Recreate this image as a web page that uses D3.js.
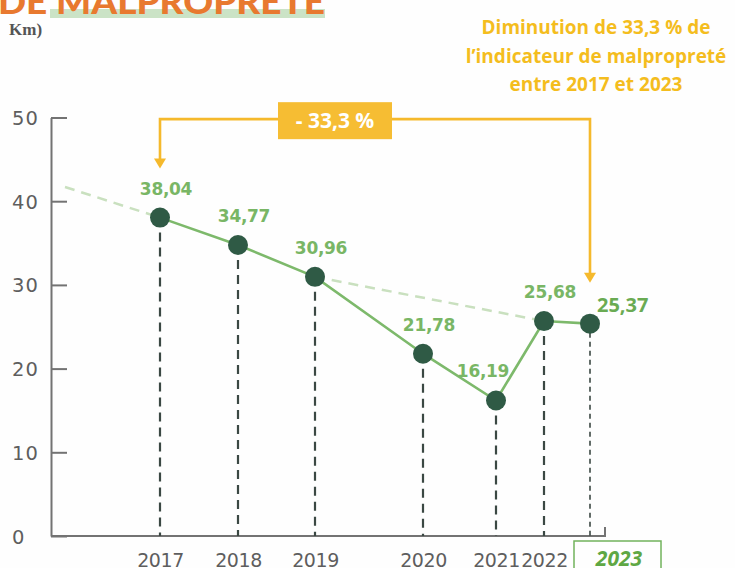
<!DOCTYPE html>
<html>
<head>
<meta charset="utf-8">
<script src="https://cdn.jsdelivr.net/npm/d3@7"></script>
<style>
  html, body { margin: 0; padding: 0; background: #fefefe; }
  svg { display: block; }
</style>
</head>
<body>
<div id="chart"></div>
<script>
// values
const years = ["2017", "2018", "2019", "2020", "2021", "2022", "2023"];
const values = [38.04, 34.77, 30.96, 21.78, 16.19, 25.68, 25.37];
const yTicks = [0, 10, 20, 30, 40, 50];
// dashed trend: backward extension before 2017, then 2019 -> 2022
const trendLead = [["start", 41.7], ["2017", 38.04]];
const trendTail = [["2019", 30.96], ["2022", 25.68]];
const changeLabel = "- 33,3 %";
const noteLines = ["Diminution de 33,3 % de", "l\u2019indicateur de malpropreté", "entre 2017 et 2023"];

const W = 735, H = 568;
const GOLD = "#f5b92c", LINE = "#7db96b", DOT = "#2f5a45", LBL = "#79b665", AX = "#737373";

const svg = d3.select("#chart").append("svg").attr("width", W).attr("height", H);

// years are not evenly spaced in the original
const x = d3.scaleOrdinal().domain(["start", ...years]).range([65, 160, 238, 315, 423, 496, 544, 590]);
const y = d3.scaleLinear().domain([0, 50]).range([536, 117.5]);

const fr = d3.formatLocale({decimal: ",", thousands: " ", grouping: [3], currency: ["", "€"]}).format(".2f");

// title fragment (cut at the top of the picture)
svg.append("rect").attr("x", 50).attr("y", 9).attr("width", 275).attr("height", 9).attr("fill", "#cbe3c6");
svg.append("text").attr("x", -2).attr("y", 14).text("DE MALPROPRETE")
    .attr("textLength", 327).attr("lengthAdjust", "spacingAndGlyphs")
    .style("font-family", "Lato").style("font-weight", 900).style("font-size", "34px").attr("fill", "#e8792f");
svg.append("text").attr("x", 9).attr("y", 35).text("Km)")
    .style("font-family", "Liberation Serif").style("font-weight", 700).style("font-size", "17px").attr("fill", "#555");

// y axis
const yAxis = svg.append("g").attr("transform", "translate(51,0)")
    .call(d3.axisLeft(y).tickValues(yTicks).tickSize(-16).tickSizeOuter(0));
yAxis.select(".domain").attr("stroke", AX).attr("stroke-width", 2);
yAxis.selectAll(".tick line").attr("stroke", AX).attr("stroke-width", 2);
yAxis.selectAll(".tick text").attr("x", -39).attr("text-anchor", "start").attr("dy", "0.36em")
    .style("font-family", "DejaVu Sans").style("font-size", "19.5px").style("letter-spacing", "1px").attr("fill", "#5e5e5e");

// x axis baseline with its end tick
svg.append("path").attr("d", `M51,${y(0)}H605V${y(0) - 9}`)
    .attr("fill", "none").attr("stroke", AX).attr("stroke-width", 2);

const xLab = svg.append("g").attr("transform", `translate(0,${y(0)})`)
    .call(d3.axisBottom(x).tickValues(years.slice(0, 6)).tickSize(0).tickPadding(0));
xLab.select(".domain").remove();
xLab.selectAll(".tick text").attr("dy", null).attr("y", 31)
    .style("font-family", "DejaVu Sans").style("font-size", "19px").style("letter-spacing", "-0.4px").attr("fill", "#5e5e5e");

// highlighted last year
svg.append("rect").attr("x", 574).attr("y", 541).attr("width", 87).attr("height", 40)
    .attr("fill", "none").attr("stroke", "#72b35c").attr("stroke-width", 1.5);
svg.append("text").attr("x", 619).attr("y", 566).attr("text-anchor", "middle").text("2023")
    .style("font-family", "Open Sans").style("font-weight", 700).style("font-style", "italic").style("font-size", "21px")
    .attr("fill", "#5fa744");

// vertical drop lines
svg.append("g").selectAll("line").data(years).join("line")
    .attr("x1", d => x(d)).attr("x2", d => x(d))
    .attr("y1", (d, i) => y(values[i])).attr("y2", y(0))
    .attr("stroke", "#3b4843")
    .attr("stroke-width", d => d === "2023" ? 1.6 : 2.2)
    .attr("stroke-dasharray", d => d === "2023" ? "5 4" : "9 6");

// trend
const tl = d3.line().x(d => x(d[0])).y(d => y(d[1]));
[trendLead, trendTail].forEach(seg => {
    svg.append("path").attr("d", tl(seg)).attr("fill", "none")
        .attr("stroke", "#c9e0bf").attr("stroke-width", 2.5).attr("stroke-dasharray", "10 7");
});

// main series
const line = d3.line().x((d, i) => x(years[i])).y(d => y(d));
svg.append("path").attr("d", line(values)).attr("fill", "none").attr("stroke", LINE).attr("stroke-width", 2.6);

svg.append("g").selectAll("circle").data(values).join("circle")
    .attr("cx", (d, i) => x(years[i])).attr("cy", d => y(d)).attr("r", 10).attr("fill", DOT);

// value labels
svg.append("g").selectAll("text").data(values).join("text")
    .attr("x", (d, i) => i === 6 ? x(years[i]) + 7 : x(years[i]) + (i === 4 ? -13 : 6))
    .attr("y", (d, i) => i === 6 ? y(d) - 12 : y(d) - 23)
    .attr("text-anchor", (d, i) => i === 6 ? "start" : "middle")
    .text(d => fr(d))
    .style("font-family", (d, i) => i === 6 ? "Open Sans" : "DejaVu Sans")
    .style("font-weight", 700)
    .style("font-size", (d, i) => i === 6 ? "20px" : "17px")
    .style("letter-spacing", (d, i) => i === 6 ? "0px" : "-0.3px")
    .attr("fill", (d, i) => i === 6 ? "#6aab53" : LBL);

// -33,3 % bracket
const by = y(49.8);
const xa = x("2017"), xb = x("2023");
const tipA = y(values[0]) - 49, tipB = y(values[6]) - 41;
svg.append("path").attr("d", `M${xa},${tipA - 8}V${by}H${xb}V${tipB - 8}`)
    .attr("fill", "none").attr("stroke", GOLD).attr("stroke-width", 2.6);
[[xa, tipA], [xb, tipB]].forEach(([px, py]) => {
    svg.append("path").attr("d", `M${px - 6},${py - 10}L${px + 6},${py - 10}L${px},${py}Z`).attr("fill", GOLD);
});
svg.append("rect").attr("x", 278).attr("y", by - 17).attr("width", 114).attr("height", 37).attr("fill", "#f6bd33");
svg.append("text").attr("x", 335).attr("y", by + 9).attr("text-anchor", "middle").text(changeLabel)
    .style("font-family", "Open Sans").style("font-weight", 700).style("font-size", "21px").attr("fill", "#fff");

// note, top right
svg.append("g").selectAll("text").data(noteLines).join("text")
    .attr("x", 596).attr("y", (d, i) => 34 + i * 28.5).attr("text-anchor", "middle").text(d => d)
    .style("font-family", "Open Sans").style("font-weight", 700).style("font-size", "19px").attr("fill", "#f4bd1e");
</script>
</body>
</html>
